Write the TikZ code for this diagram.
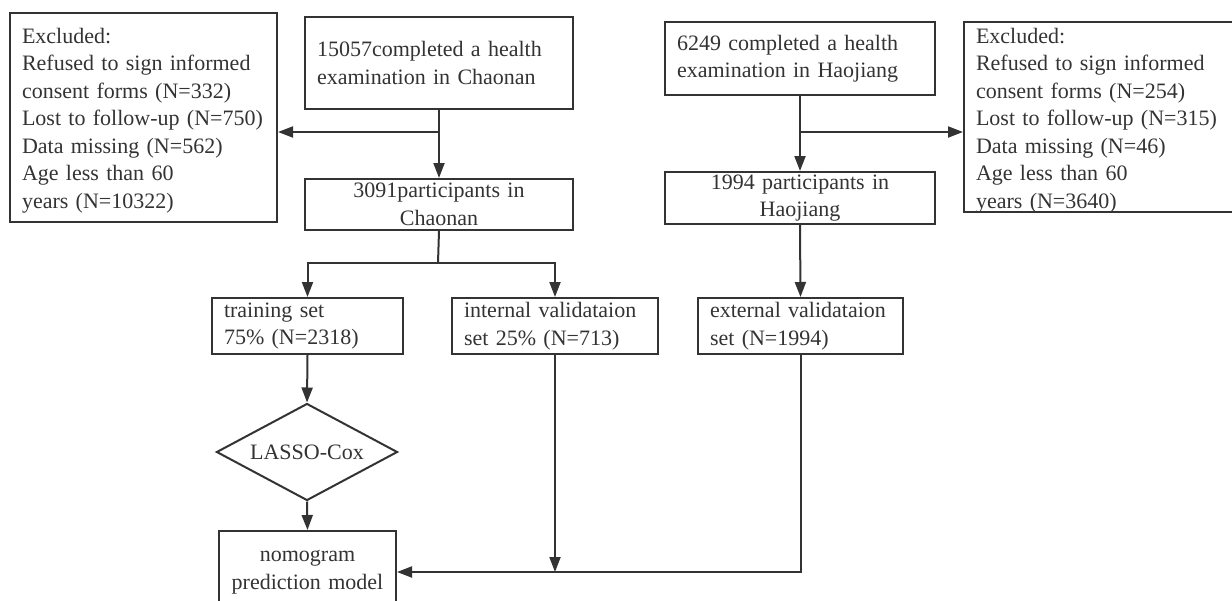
\documentclass[tikz,border=0pt]{standalone}
\usepackage{fontspec}
\setmainfont{Liberation Serif}
\usepackage{tikz}
\usetikzlibrary{arrows.meta}
\usetikzlibrary{shapes.geometric}
\definecolor{qqqqqq}{rgb}{0.2,0.2,0.2}
\tikzstyle{every node}=[font=\fontsize{22}{27.5}\selectfont, text=qqqqqq]
\tikzstyle{box}=[draw=qqqqqq, line width=2pt, rectangle, align=left, inner xsep=12pt, inner ysep=0pt, anchor=north west]
\tikzstyle{flow}=[draw=qqqqqq, line width=2pt]

\begin{document}
\begin{tikzpicture}[line cap=butt,line join=miter,>={Triangle[length=15pt,width=11pt]},x=1pt,y=-1pt]
\clip (0,0) rectangle (1232,600);
% recruitment
\node[box, text width=243, text height=30, text depth=179] (exclA) at (9,12) {Excluded:\\Refused to sign informed\\consent forms (N=332)\\Lost to follow-up (N=750)\\Data missing (N=562)\\Age less than 60\\years (N=10322)};
\node[box, text width=244, minimum height=92] (chaonan) at (304,16) {15057completed a health\\examination in Chaonan};
\node[box, text width=246, minimum height=73] (haojiang) at (664,21) {6249 completed a health\\examination in Haojiang};
\node[box, text width=258, text height=21, text depth=169] (exclB) at (963,21) {Excluded:\\Refused to sign informed\\consent forms (N=254)\\Lost to follow-up (N=315)\\Data missing (N=46)\\Age less than 60\\years (N=3640)};
\node[box, align=center, text width=244, minimum height=51] (pchaonan) at (304,178) {3091participants in\\Chaonan};
\node[box, align=center, text width=246, minimum height=52] (phaojiang) at (664,171) {1994 participants in\\Haojiang};
% sets
\node[box, text width=167, minimum height=56] (train) at (211,297) {training set\\75\% (N=2318)};
\node[box, text width=182, minimum height=56] (inval) at (451,297) {internal validataion\\set 25\% (N=713)};
\node[box, text width=181, minimum height=56] (exval) at (697,297) {external validataion\\set (N=1994)};
\node[draw=qqqqqq, line width=2pt, diamond, aspect=1.87, minimum width=181, minimum height=97, inner sep=0pt] (lasso) at (307,452) {LASSO-Cox};
\node[box, align=center, inner xsep=10pt, text width=157, minimum height=82] (nomo) at (218,530) {nomogram\\prediction model};
\coordinate (jA) at (438,132);
\coordinate (jB) at (799,132);
\coordinate (split) at (438,263);
% connectors
\draw[flow,->] (chaonan.south) -- (pchaonan.north);
\draw[flow,->] (jA) -- (jA -| exclA.east);
\draw[flow,->] (haojiang.south) -- (phaojiang.north);
\draw[flow,->] (jB) -- (jB -| exclB.west);
\draw[flow] (pchaonan.south) -- (split);
\draw[flow,->] (split) -| (train.north);
\draw[flow,->] (split) -| (inval.north);
\draw[flow,->] (phaojiang.south) -- (exval.north);
\draw[flow,->] (train.south) -- (lasso.north);
\draw[flow,->] (lasso.south) -- (nomo.north);
\draw[flow,->] (exval.south) |- (nomo.east);
\draw[flow,->] (inval.south) -- (inval.south |- nomo.east);
\end{tikzpicture}
\end{document}
